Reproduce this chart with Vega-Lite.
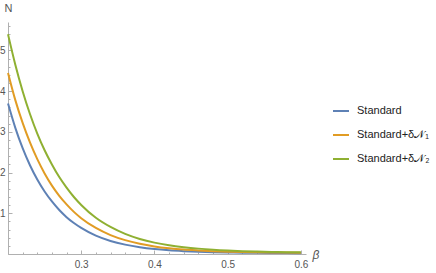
{
  "$schema": "https://vega.github.io/schema/vega-lite/v6.json",
  "width": 298,
  "height": 232,
  "autosize": {"type": "none"},
  "padding": {"left": 8, "top": 22, "right": 130, "bottom": 19},
  "background": "white",
  "config": {
    "view": {"stroke": null},
    "font": "Liberation Sans"
  },
  "data": {
    "values": [
      {"beta": 0.20, "N": 3.70, "series": "Standard"},
      {"beta": 0.21, "N": 3.10, "series": "Standard"},
      {"beta": 0.22, "N": 2.60, "series": "Standard"},
      {"beta": 0.23, "N": 2.18, "series": "Standard"},
      {"beta": 0.24, "N": 1.83, "series": "Standard"},
      {"beta": 0.25, "N": 1.535, "series": "Standard"},
      {"beta": 0.26, "N": 1.29, "series": "Standard"},
      {"beta": 0.27, "N": 1.08, "series": "Standard"},
      {"beta": 0.28, "N": 0.905, "series": "Standard"},
      {"beta": 0.29, "N": 0.76, "series": "Standard"},
      {"beta": 0.30, "N": 0.64, "series": "Standard"},
      {"beta": 0.32, "N": 0.45, "series": "Standard"},
      {"beta": 0.34, "N": 0.32, "series": "Standard"},
      {"beta": 0.36, "N": 0.23, "series": "Standard"},
      {"beta": 0.38, "N": 0.165, "series": "Standard"},
      {"beta": 0.40, "N": 0.12, "series": "Standard"},
      {"beta": 0.42, "N": 0.09, "series": "Standard"},
      {"beta": 0.44, "N": 0.07, "series": "Standard"},
      {"beta": 0.46, "N": 0.055, "series": "Standard"},
      {"beta": 0.48, "N": 0.045, "series": "Standard"},
      {"beta": 0.50, "N": 0.038, "series": "Standard"},
      {"beta": 0.52, "N": 0.033, "series": "Standard"},
      {"beta": 0.54, "N": 0.029, "series": "Standard"},
      {"beta": 0.56, "N": 0.026, "series": "Standard"},
      {"beta": 0.58, "N": 0.023, "series": "Standard"},
      {"beta": 0.60, "N": 0.02, "series": "Standard"},
      {"beta": 0.20, "N": 4.45, "series": "Standard+δ𝒩₁"},
      {"beta": 0.21, "N": 3.78, "series": "Standard+δ𝒩₁"},
      {"beta": 0.22, "N": 3.22, "series": "Standard+δ𝒩₁"},
      {"beta": 0.23, "N": 2.74, "series": "Standard+δ𝒩₁"},
      {"beta": 0.24, "N": 2.33, "series": "Standard+δ𝒩₁"},
      {"beta": 0.25, "N": 1.98, "series": "Standard+δ𝒩₁"},
      {"beta": 0.26, "N": 1.68, "series": "Standard+δ𝒩₁"},
      {"beta": 0.27, "N": 1.43, "series": "Standard+δ𝒩₁"},
      {"beta": 0.28, "N": 1.22, "series": "Standard+δ𝒩₁"},
      {"beta": 0.29, "N": 1.035, "series": "Standard+δ𝒩₁"},
      {"beta": 0.30, "N": 0.88, "series": "Standard+δ𝒩₁"},
      {"beta": 0.32, "N": 0.64, "series": "Standard+δ𝒩₁"},
      {"beta": 0.34, "N": 0.465, "series": "Standard+δ𝒩₁"},
      {"beta": 0.36, "N": 0.34, "series": "Standard+δ𝒩₁"},
      {"beta": 0.38, "N": 0.25, "series": "Standard+δ𝒩₁"},
      {"beta": 0.40, "N": 0.185, "series": "Standard+δ𝒩₁"},
      {"beta": 0.42, "N": 0.14, "series": "Standard+δ𝒩₁"},
      {"beta": 0.44, "N": 0.108, "series": "Standard+δ𝒩₁"},
      {"beta": 0.46, "N": 0.087, "series": "Standard+δ𝒩₁"},
      {"beta": 0.48, "N": 0.07, "series": "Standard+δ𝒩₁"},
      {"beta": 0.50, "N": 0.058, "series": "Standard+δ𝒩₁"},
      {"beta": 0.52, "N": 0.049, "series": "Standard+δ𝒩₁"},
      {"beta": 0.54, "N": 0.043, "series": "Standard+δ𝒩₁"},
      {"beta": 0.56, "N": 0.038, "series": "Standard+δ𝒩₁"},
      {"beta": 0.58, "N": 0.034, "series": "Standard+δ𝒩₁"},
      {"beta": 0.60, "N": 0.03, "series": "Standard+δ𝒩₁"},
      {"beta": 0.20, "N": 5.40, "series": "Standard+δ𝒩₂"},
      {"beta": 0.21, "N": 4.65, "series": "Standard+δ𝒩₂"},
      {"beta": 0.22, "N": 4.00, "series": "Standard+δ𝒩₂"},
      {"beta": 0.23, "N": 3.44, "series": "Standard+δ𝒩₂"},
      {"beta": 0.24, "N": 2.96, "series": "Standard+δ𝒩₂"},
      {"beta": 0.25, "N": 2.55, "series": "Standard+δ𝒩₂"},
      {"beta": 0.26, "N": 2.20, "series": "Standard+δ𝒩₂"},
      {"beta": 0.27, "N": 1.89, "series": "Standard+δ𝒩₂"},
      {"beta": 0.28, "N": 1.63, "series": "Standard+δ𝒩₂"},
      {"beta": 0.29, "N": 1.40, "series": "Standard+δ𝒩₂"},
      {"beta": 0.30, "N": 1.205, "series": "Standard+δ𝒩₂"},
      {"beta": 0.32, "N": 0.89, "series": "Standard+δ𝒩₂"},
      {"beta": 0.34, "N": 0.665, "series": "Standard+δ𝒩₂"},
      {"beta": 0.36, "N": 0.495, "series": "Standard+δ𝒩₂"},
      {"beta": 0.38, "N": 0.37, "series": "Standard+δ𝒩₂"},
      {"beta": 0.40, "N": 0.28, "series": "Standard+δ𝒩₂"},
      {"beta": 0.42, "N": 0.215, "series": "Standard+δ𝒩₂"},
      {"beta": 0.44, "N": 0.168, "series": "Standard+δ𝒩₂"},
      {"beta": 0.46, "N": 0.132, "series": "Standard+δ𝒩₂"},
      {"beta": 0.48, "N": 0.105, "series": "Standard+δ𝒩₂"},
      {"beta": 0.50, "N": 0.085, "series": "Standard+δ𝒩₂"},
      {"beta": 0.52, "N": 0.07, "series": "Standard+δ𝒩₂"},
      {"beta": 0.54, "N": 0.06, "series": "Standard+δ𝒩₂"},
      {"beta": 0.56, "N": 0.052, "series": "Standard+δ𝒩₂"},
      {"beta": 0.58, "N": 0.045, "series": "Standard+δ𝒩₂"},
      {"beta": 0.60, "N": 0.04, "series": "Standard+δ𝒩₂"}
    ]
  },
  "mark": {"type": "line", "strokeWidth": 2, "interpolate": "monotone"},
  "encoding": {
    "x": {
      "field": "beta",
      "type": "quantitative",
      "scale": {"domain": [0.2, 0.607], "nice": false, "zero": false},
      "axis": {
        "title": "β",
        "titleFontStyle": "italic",
        "titleFontWeight": "normal",
        "titleFontSize": 12,
        "titleColor": "#555555",
        "titleAngle": 0,
        "titleAlign": "left",
        "titleBaseline": "middle",
        "titleX": 304,
        "titleY": 0,
        "values": [0.2, 0.22, 0.24, 0.26, 0.28, 0.3, 0.32, 0.34, 0.36, 0.38, 0.4, 0.42, 0.44, 0.46, 0.48, 0.5, 0.52, 0.54, 0.56, 0.58, 0.6],
        "labelExpr": "(abs(datum.value*10 - round(datum.value*10)) < 0.001 && datum.value > 0.25) ? format(datum.value, '.1f') : ''",
        "labelFontSize": 10,
        "labelColor": "#555555",
        "labelPadding": 9,
        "labelFlush": false,
        "labelOverlap": false,
        "domainColor": "#b0b0b0",
        "tickColor": "#b0b0b0",
        "tickSize": {"condition": {"test": "abs(datum.value*10 - round(datum.value*10)) < 0.001", "value": -4}, "value": -2},
        "grid": false
      }
    },
    "y": {
      "field": "N",
      "type": "quantitative",
      "scale": {"domain": [0, 5.7], "nice": false},
      "axis": {
        "title": "N",
        "titleFontWeight": "normal",
        "titleFontSize": 11,
        "titleColor": "#555555",
        "titleAngle": 0,
        "titleAlign": "center",
        "titleBaseline": "bottom",
        "titleX": 0,
        "titleY": -9,
        "values": [0, 0.2, 0.4, 0.6, 0.8, 1, 1.2, 1.4, 1.6, 1.8, 2, 2.2, 2.4, 2.6, 2.8, 3, 3.2, 3.4, 3.6, 3.8, 4, 4.2, 4.4, 4.6, 4.8, 5, 5.2, 5.4, 5.6],
        "labelExpr": "(abs(datum.value - round(datum.value)) < 0.001 && datum.value > 0.5) ? format(datum.value, 'd') : ''",
        "labelFontSize": 10,
        "labelColor": "#555555",
        "labelPadding": 7,
        "labelOverlap": false,
        "domainColor": "#b0b0b0",
        "tickColor": "#b0b0b0",
        "tickSize": {"condition": {"test": "abs(datum.value - round(datum.value)) < 0.001", "value": -4}, "value": -2},
        "grid": false
      }
    },
    "color": {
      "field": "series",
      "type": "nominal",
      "scale": {
        "domain": ["Standard", "Standard+δ𝒩₁", "Standard+δ𝒩₂"],
        "range": ["#5E81B5", "#E19C24", "#8FB032"]
      },
      "legend": {
        "title": null,
        "orient": "none",
        "legendX": 324,
        "legendY": 80,
        "padding": 0,
        "symbolType": "stroke",
        "symbolSize": 256,
        "symbolStrokeWidth": 2,
        "labelFontSize": 11,
        "labelColor": "#222222",
        "labelOffset": 7,
        "rowPadding": 10,
        "labelLimit": 200
      }
    }
  }
}
